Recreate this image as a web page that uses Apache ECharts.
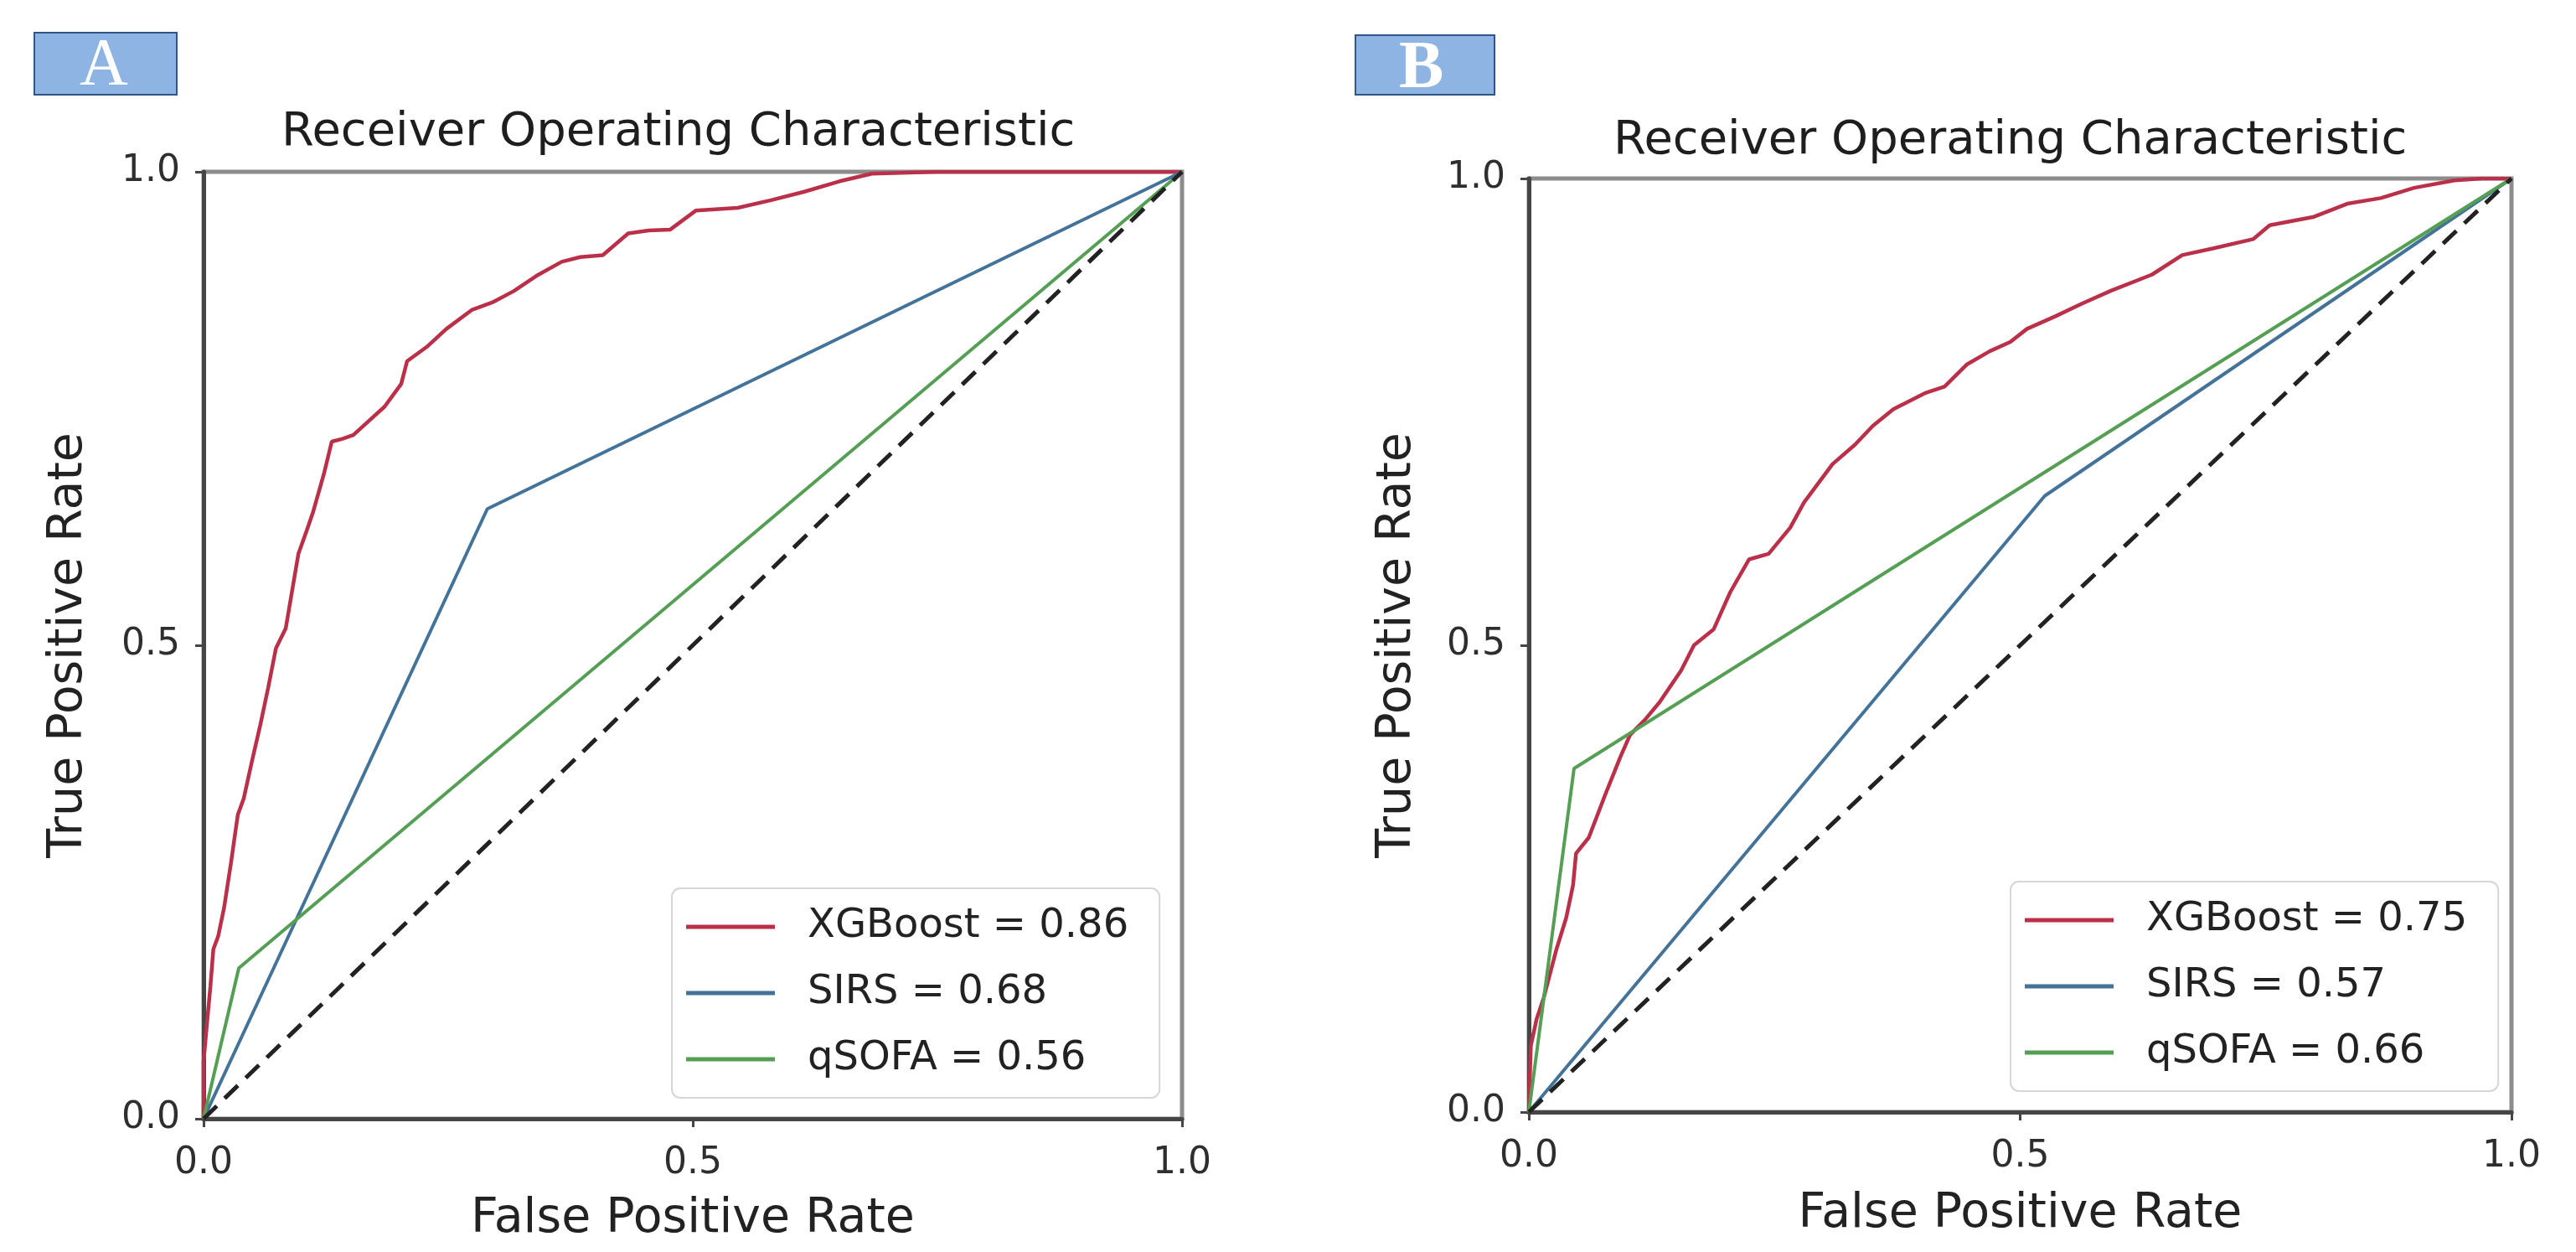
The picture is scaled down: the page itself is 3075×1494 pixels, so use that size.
<!DOCTYPE html>
<html>
<head>
<meta charset="utf-8">
<script src="https://cdn.jsdelivr.net/npm/echarts@6/dist/echarts.min.js"></script>
<style>
html,body{margin:0;padding:0;background:#fff;}
#chart{width:3075px;height:1494px;}
</style>
</head>
<body>
<div id="chart"></div>
<script>
// ---------- data ----------
const titleText = 'Receiver Operating Characteristic';
const xAxisName = 'False Positive Rate';
const yAxisName = 'True Positive Rate';
const tickValues = [0.0, 0.5, 1.0];
const panelLabels = ['A', 'B'];

const namesA = ['XGBoost = 0.86', 'SIRS = 0.68', 'qSOFA = 0.56'];
const namesB = ['XGBoost = 0.75', 'SIRS = 0.57', 'qSOFA = 0.66'];

// Panel A
const xgbA_fpr = [0, 0.000, 0.003, 0.007, 0.010, 0.015, 0.021, 0.028, 0.035, 0.041, 0.050, 0.058, 0.066, 0.074, 0.084, 0.097, 0.105, 0.112, 0.123, 0.131, 0.142, 0.153, 0.170, 0.185, 0.202, 0.208, 0.228, 0.248, 0.274, 0.295, 0.317, 0.340, 0.366, 0.385, 0.408, 0.434, 0.455, 0.477, 0.503, 0.546, 0.580, 0.614, 0.650, 0.683, 0.750, 0.850, 0.920, 1.0];
const xgbA_tpr = [0, 0.060, 0.095, 0.140, 0.179, 0.193, 0.223, 0.270, 0.321, 0.338, 0.380, 0.416, 0.455, 0.497, 0.518, 0.597, 0.620, 0.641, 0.681, 0.715, 0.718, 0.722, 0.738, 0.752, 0.776, 0.800, 0.815, 0.834, 0.854, 0.862, 0.874, 0.890, 0.905, 0.910, 0.912, 0.935, 0.938, 0.939, 0.959, 0.962, 0.970, 0.979, 0.990, 0.998, 1.0, 1.0, 1.0, 1.0];
const sirsA_fpr = [0, 0.290, 1.0];
const sirsA_tpr = [0, 0.644, 1.0];
const qsofaA_fpr = [0, 0.036, 1.0];
const qsofaA_tpr = [0, 0.159, 1.0];

// Panel B
const xgbB_fpr = [0, 0.002, 0.008, 0.015, 0.028, 0.038, 0.045, 0.048, 0.061, 0.077, 0.093, 0.103, 0.118, 0.133, 0.155, 0.168, 0.188, 0.205, 0.224, 0.244, 0.266, 0.280, 0.309, 0.332, 0.350, 0.371, 0.403, 0.423, 0.446, 0.469, 0.490, 0.507, 0.535, 0.563, 0.593, 0.634, 0.665, 0.696, 0.737, 0.754, 0.799, 0.833, 0.867, 0.901, 0.942, 0.970, 1.0];
const xgbB_tpr = [0, 0.071, 0.100, 0.122, 0.174, 0.208, 0.243, 0.277, 0.294, 0.338, 0.380, 0.404, 0.420, 0.439, 0.473, 0.500, 0.517, 0.557, 0.592, 0.598, 0.626, 0.653, 0.694, 0.715, 0.735, 0.753, 0.770, 0.777, 0.801, 0.815, 0.825, 0.839, 0.852, 0.866, 0.880, 0.897, 0.918, 0.925, 0.935, 0.950, 0.959, 0.973, 0.979, 0.990, 0.998, 1.0, 1.0];
const sirsB_fpr = [0, 0.525, 1.0];
const sirsB_tpr = [0, 0.660, 1.0];
const qsofaB_fpr = [0, 0.046, 1.0];
const qsofaB_tpr = [0, 0.368, 1.0];

const chance_fpr = [0, 1];
const chance_tpr = [0, 1];

// ---------- styling ----------
const FONT = 'DejaVu Sans';
const COL_RED = '#bb3049';
const COL_BLUE = '#44739a';
const COL_GREEN = '#559f55';
const COL_DASH = '#222222';

function pairs(xs, ys) { return xs.map((x, i) => [x, ys[i]]); }

const grids = [
  { left: 243, top: 205, width: 1168, height: 1130 },
  { left: 1825, top: 213, width: 1173, height: 1114 }
];

function axisCommon(isX, gi, nameGap) {
  return {
    type: 'value', gridIndex: gi, min: 0, max: 1, interval: 0.5,
    name: isX ? xAxisName : yAxisName,
    nameLocation: 'middle', nameGap: nameGap,
    nameTextStyle: { fontFamily: FONT, fontSize: 57, color: '#222' },
    axisLine: { show: true, onZero: false, lineStyle: { color: '#454545', width: 5 } },
    axisTick: { show: true, length: 10, lineStyle: { color: '#454545', width: 3 } },
    axisLabel: { fontFamily: FONT, fontSize: 44, color: '#2e2e2e', margin: isX ? 32 : 28,
                 formatter: v => tickValues.includes(v) ? v.toFixed(1) : '' },
    splitLine: { show: false }
  };
}

function lineSeries(name, gi, xs, ys, color, width, dash) {
  return {
    name: name, type: 'line', xAxisIndex: gi, yAxisIndex: gi,
    data: pairs(xs, ys), showSymbol: false, symbol: 'none', smooth: false,
    lineStyle: { color: color, width: width, type: dash || 'solid' },
    itemStyle: { color: color },
    emphasis: { disabled: true }, animation: false
  };
}

function legendFor(names, left, top) {
  return {
    orient: 'vertical', left: left, top: top, data: names,
    icon: 'rect', itemWidth: 106, itemHeight: 5, itemGap: 31,
    padding: [22, 37, 22, 17],
    backgroundColor: '#ffffff', borderColor: '#d6d6d6', borderWidth: 2, borderRadius: 10,
    selectedMode: false,
    textStyle: { fontFamily: FONT, fontSize: 48, color: '#222', padding: [0, 0, 0, 34] }
  };
}

function panelBox(label, x, y, w, h, bold) {
  return [
    { type: 'rect', left: x, top: y, shape: { width: w, height: h },
      style: { fill: '#8db4e2', stroke: '#2e5687', lineWidth: 2 } },
    { type: 'text', left: x + w / 2 - 30, top: y + 2,
      style: { text: label, fill: '#ffffff', font: (bold ? 'bold ' : '') + '80px "Liberation Serif"',
               width: 60, align: 'center' } }
  ];
}

const option = {
  backgroundColor: '#ffffff',
  animation: false,
  title: [
    { text: titleText, left: 336, top: 130, padding: 0,
      textStyle: { fontFamily: FONT, fontSize: 56, fontWeight: 'normal', color: '#1e1e1e' } },
    { text: titleText, left: 1926, top: 140, padding: 0,
      textStyle: { fontFamily: FONT, fontSize: 56, fontWeight: 'normal', color: '#1e1e1e' } }
  ],
  grid: grids.map(g => Object.assign({ show: true, borderColor: '#8c8c8c', borderWidth: 5, backgroundColor: 'transparent', containLabel: false }, g)),
  xAxis: [axisCommon(true, 0, 92), axisCommon(true, 1, 94)],
  yAxis: [axisCommon(false, 0, 132), axisCommon(false, 1, 128)],
  legend: [legendFor(namesA, 802, 1060), legendFor(namesB, 2400, 1052)],
  series: [
    lineSeries(namesA[0], 0, xgbA_fpr, xgbA_tpr, COL_RED, 4.5),
    lineSeries(namesA[1], 0, sirsA_fpr, sirsA_tpr, COL_BLUE, 4),
    lineSeries(namesA[2], 0, qsofaA_fpr, qsofaA_tpr, COL_GREEN, 4),
    lineSeries('chanceA', 0, chance_fpr, chance_tpr, COL_DASH, 5, [22, 13]),
    lineSeries(namesB[0], 1, xgbB_fpr, xgbB_tpr, COL_RED, 4.5),
    lineSeries(namesB[1], 1, sirsB_fpr, sirsB_tpr, COL_BLUE, 4),
    lineSeries(namesB[2], 1, qsofaB_fpr, qsofaB_tpr, COL_GREEN, 4),
    lineSeries('chanceB', 1, chance_fpr, chance_tpr, COL_DASH, 5, [22, 13])
  ],
  graphic: [].concat(panelBox(panelLabels[0], 40, 38, 170, 74, false), panelBox(panelLabels[1], 1617, 41, 166, 71, true))
};

const chart = echarts.init(document.getElementById('chart'), null, { renderer: 'canvas' });
chart.setOption(option);
</script>
</body>
</html>
